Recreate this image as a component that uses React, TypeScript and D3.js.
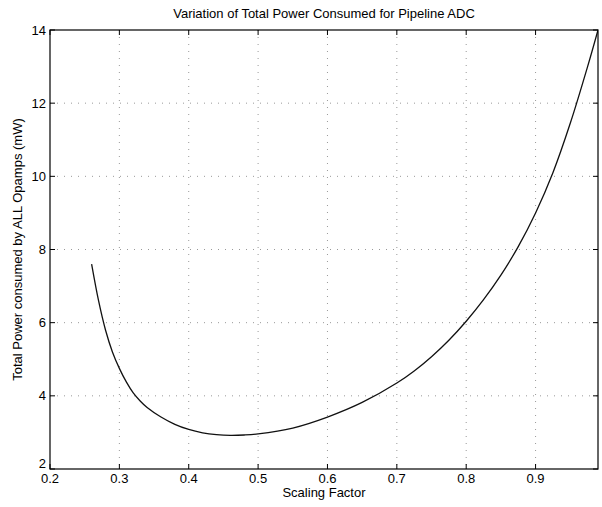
import React from "react";
import * as d3 from "d3";

const titleText = "Variation of Total Power Consumed for Pipeline ADC";
const xLabel = "Scaling Factor";
const yLabel = "Total Power consumed by ALL Opamps (mW)";

const xTicks = [0.2, 0.3, 0.4, 0.5, 0.6, 0.7, 0.8, 0.9];
const yTicks = [2, 4, 6, 8, 10, 12, 14];

const scalingFactor = [
  0.26, 0.27, 0.28, 0.29, 0.3, 0.31, 0.32, 0.33, 0.34, 0.36, 0.38, 0.4, 0.42,
  0.44, 0.46, 0.48, 0.5, 0.55, 0.6, 0.65, 0.7, 0.725, 0.75, 0.775, 0.8,
  0.825, 0.85, 0.875, 0.9, 0.925, 0.95, 0.975, 0.99,
];
const totalPower = [
  7.6, 6.6, 5.8, 5.2, 4.75, 4.38, 4.08, 3.86, 3.68, 3.42, 3.22, 3.08, 2.99,
  2.94, 2.92, 2.93, 2.96, 3.12, 3.42, 3.82, 4.35, 4.68, 5.07, 5.52, 6.04,
  6.63, 7.3, 8.08, 9.0, 10.1, 11.45, 13.0, 14.0,
];

const W = 602;
const H = 507;
const left = 50;
const right = 598;
const top = 30;
const bottom = 469;

export default function App() {
  const x = d3.scaleLinear().domain([0.2, 0.99]).range([left, right]);
  const y = d3.scaleLinear().domain([2, 14]).range([bottom, top]);
  const pts: [number, number][] = scalingFactor.map((s, i) => [s, totalPower[i]]);
  const line = d3
    .line<[number, number]>()
    .x((d) => x(d[0]))
    .y((d) => y(d[1]))
    .curve(d3.curveCatmullRom.alpha(0.5));
  const font = "'Liberation Sans', Arial, Helvetica, sans-serif";
  const tick = 5;
  return (
    <svg
      width={W}
      height={H}
      style={{ position: "absolute", left: 0, top: 0, background: "#fff" }}
      fontFamily={font}
    >
      <defs>
        <clipPath id="plotClip">
          <rect x={left} y={top} width={right - left} height={bottom - top} />
        </clipPath>
      </defs>
      <rect x={0} y={0} width={W} height={H} fill="#fff" />
      {/* grid */}
      <g stroke="#999" strokeWidth={1} strokeDasharray="1 6">
        {xTicks.slice(1).map((t) => (
          <line key={"gx" + t} x1={x(t)} x2={x(t)} y1={top} y2={bottom} />
        ))}
        {yTicks.slice(1, -1).map((t) => (
          <line key={"gy" + t} x1={left} x2={right} y1={y(t)} y2={y(t)} />
        ))}
      </g>
      {/* curve */}
      <path
        d={line(pts) || ""}
        fill="none"
        stroke="#111"
        strokeWidth={1.3}
        clipPath="url(#plotClip)"
      />
      {/* box */}
      <rect
        x={left}
        y={top}
        width={right - left}
        height={bottom - top}
        fill="none"
        stroke="#000"
        strokeWidth={1.2}
      />
      {/* ticks */}
      <g stroke="#000" strokeWidth={1}>
        {xTicks.map((t) => (
          <g key={"tx" + t}>
            <line x1={x(t)} x2={x(t)} y1={bottom} y2={bottom - tick} />
            <line x1={x(t)} x2={x(t)} y1={top} y2={top + tick} />
          </g>
        ))}
        {yTicks.map((t) => (
          <g key={"ty" + t}>
            <line x1={left} x2={left + tick} y1={y(t)} y2={y(t)} />
            <line x1={right} x2={right - tick} y1={y(t)} y2={y(t)} />
          </g>
        ))}
      </g>
      {/* tick labels */}
      <g fontSize={13} fill="#000">
        {xTicks.map((t) => (
          <text key={"lx" + t} x={x(t)} y={bottom + 14} textAnchor="middle">
            {d3.format(".1f")(t)}
          </text>
        ))}
        {yTicks.map((t) => (
          <text
            key={"ly" + t}
            x={left - 4}
            y={t === 2 ? y(t) - 1 : y(t) + 4.5}
            textAnchor="end"
          >
            {t}
          </text>
        ))}
      </g>
      <text x={(left + right) / 2} y={497} textAnchor="middle" fontSize={13}>
        {xLabel}
      </text>
      <text
        transform={`translate(${22},${(top + bottom) / 2}) rotate(-90)`}
        textAnchor="middle"
        fontSize={13}
      >
        {yLabel}
      </text>
      <text x={(left + right) / 2} y={18} textAnchor="middle" fontSize={13}>
        {titleText}
      </text>
    </svg>
  );
}
